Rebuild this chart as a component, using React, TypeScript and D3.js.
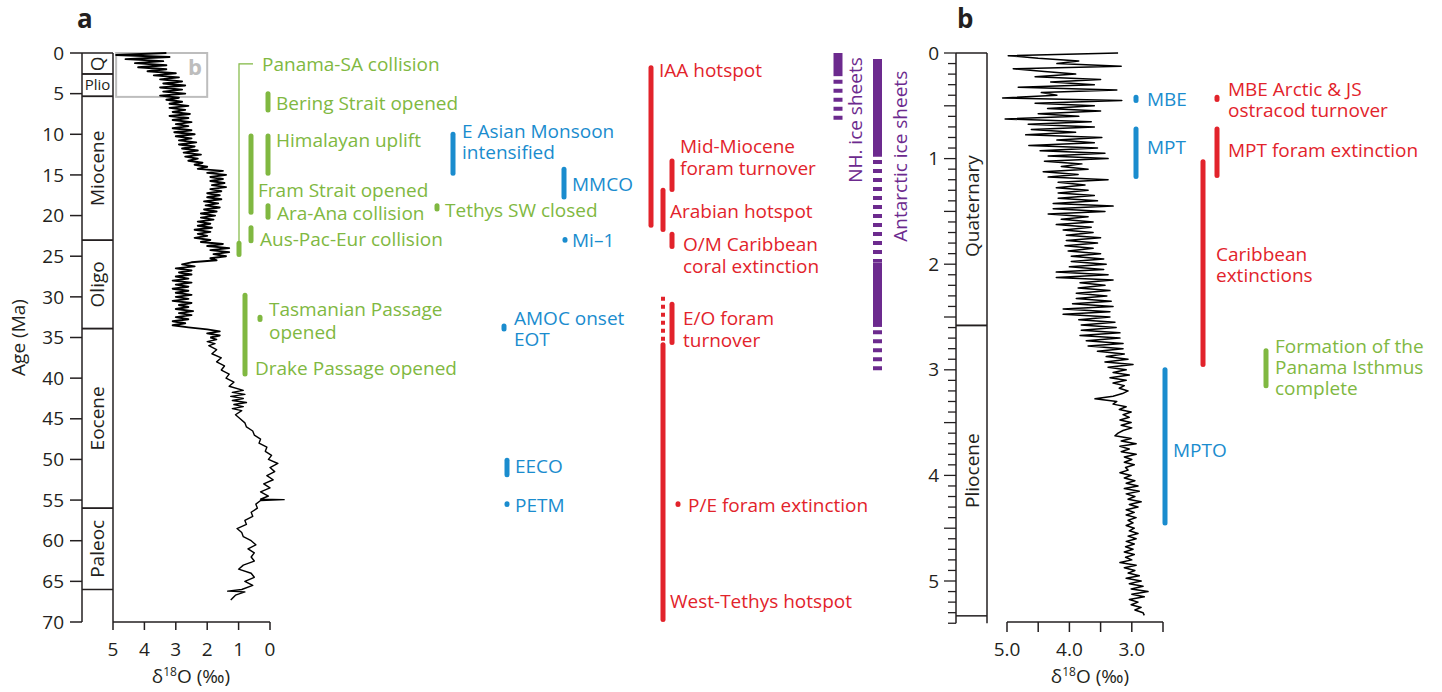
import * as d3 from "d3";
import React from "react";

const GREEN = "#80b841";
const BLUE = "#1a8cce";
const RED = "#e2232b";
const PURPLE = "#6c2a8e";
const INK = "#231f20";
const GREY = "#bdbdbd";
const FONT = "'Open Sans', 'Noto Sans', sans-serif";

// ---------- data ----------
const epochsA = [
  { name: "Q", from: 0, to: 2.58 },
  { name: "Plio", from: 2.58, to: 5.33 },
  { name: "Miocene", from: 5.33, to: 23.03 },
  { name: "Oligo", from: 23.03, to: 33.9 },
  { name: "Eocene", from: 33.9, to: 56 },
  { name: "Paleoc", from: 56, to: 66 },
];
const epochsB = [
  { name: "Quaternary", from: 0, to: 2.58 },
  { name: "Pliocene", from: 2.58, to: 5.33 },
];

// panel a benthic d18O, 0-35 Ma read every 0.25 Ma
const aYoungStep = 0.25;
const aYoungD18O = [
  3.3, 4.9, 3.2, 4.6, 3.4, 4.3, 3.3, 4.2, 3.3, 3.9,
  3.0, 3.7, 2.9, 3.5, 2.8, 3.4, 2.7, 3.5, 2.8, 3.4,
  2.7, 3.5, 2.9, 3.3, 2.8, 3.2, 2.6, 3.2, 2.7, 3.1,
  2.55, 3.2, 2.6, 3.1, 2.5, 3.0, 2.6, 3.1, 2.5, 3.05,
  2.4, 3.0, 2.5, 2.9, 2.35, 2.9, 2.4, 2.8, 2.3, 2.75,
  2.2, 2.7, 2.3, 2.6, 2.15, 2.4, 2.0, 2.3, 1.5, 2.0,
  1.4, 1.9, 1.5, 1.9, 1.45, 1.85, 1.4, 1.9, 1.55, 2.0,
  1.6, 2.0, 1.55, 2.1, 1.65, 2.05, 1.6, 2.1, 1.7, 2.2,
  1.75, 2.2, 1.8, 2.3, 1.9, 2.3, 1.85, 2.4, 1.9, 2.3,
  2.0, 2.4, 1.9, 2.2, 1.5, 2.0, 1.3, 1.9, 1.3, 1.8,
  1.4, 1.9, 1.7, 2.5, 2.8, 2.4, 3.0, 2.5, 2.9, 2.5,
  3.0, 2.6, 3.1, 2.5, 3.0, 2.6, 3.1, 2.6, 3.0, 2.5,
  3.0, 2.6, 3.1, 2.5, 2.9, 2.6, 3.0, 2.45, 2.9, 2.5,
  3.0, 2.6, 3.1, 2.7, 3.1, 2.6, 2.0, 1.6, 2.0, 1.6,
  1.9,
];
// panel a, older part [age Ma, d18O]
const aOldD18O: [number, number][] = [
  [35, 1.9], [35.25, 1.7], [35.5, 2.0], [35.75, 1.75], [36, 1.95], [36.5, 1.7], [37, 1.85], [37.5, 1.55],
  [38, 1.7], [38.5, 1.45], [39, 1.55], [39.5, 1.3], [40, 1.4], [40.5, 1.15], [41, 1.3],
  [41.5, 0.85], [41.75, 1.2], [42, 0.8], [42.25, 1.25], [42.5, 0.85], [42.75, 1.2], [43, 0.75],
  [43.25, 1.15], [43.5, 0.85], [43.75, 1.2], [44, 0.9], [44.5, 1.1], [45, 0.95], [45.5, 0.8],
  [46, 0.75], [46.5, 0.55], [47, 0.5], [47.5, 0.3], [48, 0.35], [48.5, 0.1], [49, 0.15],
  [49.5, -0.05], [50, 0.05], [50.5, -0.25], [51, 0.0], [51.5, -0.15], [52, 0.1], [52.5, -0.1],
  [53, 0.2], [53.5, 0.0], [54, 0.3], [54.5, 0.05], [54.9, 0.3], [54.95, -0.45], [55.05, 0.3],
  [55.5, 0.45], [56, 0.4], [56.5, 0.6], [57, 0.55], [57.5, 0.8], [58, 0.75], [58.5, 1.05],
  [59, 0.9], [59.5, 0.85], [60, 0.6], [60.5, 0.45], [61, 0.7], [61.5, 0.5], [62, 0.6],
  [62.5, 0.5], [63, 0.85], [63.5, 1.0], [64, 0.6], [64.5, 0.5], [65, 0.8], [65.5, 0.55],
  [66, 0.9], [66.2, 1.35], [66.3, 0.8], [66.7, 1.1], [67.3, 1.25],
];

// panel b, 0-5.33 Ma read every 0.025 Ma
const bStep = 0.025;
const bD18O = [
  3.22, 4.98, 4.5, 3.85, 4.2, 3.17, 4.9, 4.4, 3.9, 4.55,
  3.5, 4.3, 3.6, 4.82, 3.24, 4.45, 4.2, 5.07, 3.16, 4.55,
  3.6, 4.35, 3.5, 4.5, 3.85, 5.03, 3.65, 4.66, 3.6, 4.61,
  3.9, 4.7, 3.48, 4.2, 3.6, 4.65, 3.55, 4.47, 3.43, 4.34,
  3.38, 4.4, 3.8, 4.13, 3.7, 4.42, 3.86, 4.34, 3.38, 4.18,
  3.75, 4.21, 3.7, 4.18, 3.6, 4.18, 3.55, 4.26, 3.3, 4.26,
  3.43, 4.34, 3.7, 4.13, 3.62, 4.21, 3.65, 4.1, 3.62, 4.05,
  3.5, 4.05, 3.55, 4.07, 3.62, 4.02, 3.5, 3.97, 3.45, 3.97,
  3.41, 4.0, 3.45, 4.21, 3.38, 4.21, 3.3, 3.83, 3.43, 3.86,
  3.35, 3.89, 3.4, 3.89, 3.33, 3.95, 3.3, 4.1, 3.35, 4.1,
  3.35, 3.85, 3.27, 3.81, 3.25, 3.81, 3.19, 3.83, 3.19, 3.73,
  3.14, 3.7, 3.14, 3.55, 3.12, 3.41, 3.06, 3.43, 2.98, 3.38,
  3.09, 3.3, 3.04, 3.35, 3.09, 3.3, 3.12, 3.2, 3.06, 3.15,
  3.3, 3.59, 3.24, 3.3, 3.09, 3.2, 3.01, 3.14, 3.04, 3.19,
  3.01, 3.17, 3.0, 3.14, 3.22, 3.27, 3.01, 3.17, 2.93, 3.19,
  3.04, 3.17, 2.93, 3.12, 3.0, 3.12, 2.96, 3.1, 3.06, 3.19,
  3.01, 3.12, 2.95, 3.09, 2.9, 3.12, 2.88, 3.09, 2.95, 3.06,
  2.85, 3.04, 2.9, 3.09, 2.96, 3.09, 2.93, 3.06, 2.98, 3.09,
  2.96, 3.04, 2.9, 3.06, 2.93, 3.09, 2.96, 3.1, 2.98, 3.12,
  2.96, 3.1, 3.0, 3.19, 2.93, 3.12, 2.95, 3.06, 2.88, 3.09,
  2.85, 3.04, 2.82, 3.01, 2.74, 3.0, 2.8, 3.04, 2.9, 3.01,
  2.85, 2.95, 2.82, 2.8,
];

type Ev = { id: string; text: string[]; from: number; to: number };

const tectonicA: Ev[] = [
  { id: "bering", text: ["Bering Strait opened"], from: 5.0, to: 7.0 },
  { id: "himalaya", text: ["Himalayan uplift"], from: 10.2, to: 14.8 },
  { id: "fram", text: ["Fram Strait opened"], from: 10.2, to: 19.6 },
  { id: "araAna", text: ["Ara-Ana collision"], from: 18.8, to: 20.2 },
  { id: "tethys", text: ["Tethys SW closed"], from: 18.8, to: 19.2 },
  { id: "ausPac", text: ["Aus-Pac-Eur collision"], from: 21.5, to: 23.1 },
  { id: "tasman", text: ["Tasmanian Passage", "opened"], from: 32.5, to: 32.8 },
  { id: "drake", text: ["Drake Passage opened"], from: 29.8, to: 39.5 },
];
const panamaSA = { text: ["Panama-SA collision"], thinFrom: 1.35, thinTo: 23.3, barFrom: 23.4, barTo: 24.8 };

const climateA: Ev[] = [
  { id: "monsoon", text: ["E Asian Monsoon", "intensified"], from: 10.0, to: 14.8 },
  { id: "mmco", text: ["MMCO"], from: 14.3, to: 17.7 },
  { id: "mi1", text: ["Mi\u20131"], from: 22.95, to: 23.05 },
  { id: "amoc", text: ["AMOC onset", "EOT"], from: 33.6, to: 33.95 },
  { id: "eeco", text: ["EECO"], from: 50.1, to: 51.9 },
  { id: "petm", text: ["PETM"], from: 55.45, to: 55.55 },
];

const bioticA: Ev[] = [
  { id: "iaa", text: ["IAA hotspot"], from: 1.8, to: 21.2 },
  { id: "midMio", text: ["Mid-Miocene", "foram turnover"], from: 13.3, to: 16.8 },
  { id: "arabian", text: ["Arabian hotspot"], from: 16.9, to: 21.7 },
  { id: "omCarib", text: ["O/M Caribbean", "coral extinction"], from: 22.3, to: 23.8 },
  { id: "eoForam", text: ["E/O foram", "turnover"], from: 30.9, to: 35.6 },
  { id: "peForam", text: ["P/E foram extinction"], from: 55.45, to: 55.55 },
];
const westTethys = {
  text: ["West-Tethys hotspot"],
  spans: [
    { from: 30.0, to: 35.7, firm: false },
    { from: 35.9, to: 69.7, firm: true },
  ],
};

const iceSheets = [
  { id: "nh", text: "NH. ice sheets", spans: [{ from: 0, to: 2.85, firm: true }, { from: 3.3, to: 8.4, firm: false }] },
  {
    id: "ant",
    text: "Antarctic ice sheets",
    spans: [
      { from: 0.75, to: 12.75, firm: true },
      { from: 13.15, to: 25.7, firm: false },
      { from: 25.75, to: 33.7, firm: true },
      { from: 34.1, to: 39.2, firm: false },
    ],
  },
];

const climateB: Ev[] = [
  { id: "mbe", text: ["MBE"], from: 0.42, to: 0.45 },
  { id: "mpt", text: ["MPT"], from: 0.72, to: 1.17 },
  { id: "mpto", text: ["MPTO"], from: 3.0, to: 4.45 },
];
const bioticB: Ev[] = [
  { id: "mbeArctic", text: ["MBE Arctic & JS", "ostracod turnover"], from: 0.42, to: 0.44 },
  { id: "mptForam", text: ["MPT foram extinction"], from: 0.72, to: 1.16 },
  { id: "carib", text: ["Caribbean", "extinctions"], from: 1.03, to: 2.95 },
];
const tectonicB: Ev[] = [
  { id: "isthmus", text: ["Formation of the", "Panama Isthmus", "complete"], from: 2.82, to: 3.15 },
];

// ---------- layout: [bar x, label x, label age] ----------
const place: Record<string, [number, number, number]> = {
  bering: [268, 276, 6.15],
  himalaya: [268, 276, 10.7],
  fram: [251, 258, 16.85],
  araAna: [268, 277, 19.7],
  tethys: [437, 445, 19.3],
  ausPac: [251, 260, 22.9],
  tasman: [260, 269, 31.5],
  drake: [245, 255, 38.75],
  monsoon: [453, 462, 9.68],
  mmco: [564, 572, 16.1],
  mi1: [565, 572, 23.1],
  amoc: [504, 514, 32.7],
  eeco: [507, 515, 50.9],
  petm: [507, 515, 55.6],
  iaa: [651, 659, 2.18],
  midMio: [672, 680, 11.5],
  arabian: [663, 670, 19.5],
  omCarib: [672, 683, 23.6],
  eoForam: [672, 683, 32.6],
  peForam: [678, 688, 55.7],
  mbe: [1136, 1147, 0.44],
  mpt: [1136, 1147, 0.89],
  mpto: [1165, 1173, 3.76],
  mbeArctic: [1217, 1228, 0.34],
  mptForam: [1217, 1228, 0.925],
  carib: [1203, 1216, 1.91],
  isthmus: [1266, 1275, 2.78],
};
// [bar x, label x, label centre age]
const iceX: Record<string, [number, number, number]> = { nh: [838, 855, 8.25], ant: [877.5, 900, 12.7] };

// ---------- scales ----------
const yA = d3.scaleLinear().domain([0, 70]).range([53, 622]);
const xA = d3.scaleLinear().domain([5, 0]).range([113, 270]);
const yB = d3.scaleLinear().domain([0, 5]).range([53, 581]);
const xB = d3.scaleLinear().domain([5, 2.5]).range([1007, 1163]);

const curveAYoung: [number, number][] = aYoungD18O.map((d, i) => [i * aYoungStep, d]);
const curveB: [number, number][] = bD18O.map((d, i) => [i * bStep, d]);

const lineA = d3.line<[number, number]>().x((d) => xA(d[1])).y((d) => yA(d[0]));
const lineB = d3.line<[number, number]>().x((d) => xB(d[1])).y((d) => yB(d[0]));

function Lines({ x, y, lines, color, gap }: { x: number; y: number; lines: string[]; color: string; gap: number }) {
  return (
    <text x={x} y={y} fill={color} fontSize={19}>
      {lines.map((t, i) => (
        <tspan key={i} x={x} dy={i === 0 ? "0.35em" : gap}>
          {t}
        </tspan>
      ))}
    </text>
  );
}

function EventMarks({ events, y, color, gap }: { events: Ev[]; y: d3.ScaleLinear<number, number>; color: string; gap: number }) {
  return (
    <g>
      {events.map((ev) => {
        const [bx, lx, la] = place[ev.id];
        return (
          <g key={ev.id}>
            <line x1={bx} x2={bx} y1={y(ev.from)} y2={y(ev.to)} stroke={color} strokeWidth={5} strokeLinecap="round" />
            <Lines x={lx} y={y(la)} lines={ev.text} color={color} gap={gap} />
          </g>
        );
      })}
    </g>
  );
}

function DeltaTitle({ x, y }: { x: number; y: number }) {
  return (
    <text x={x} y={y} textAnchor="middle" fontSize={19} fill={INK} dy="0.35em">
      δ<tspan dy={-7} fontSize={12}>18</tspan>
      <tspan dy={7}>O (‰)</tspan>
    </text>
  );
}

function PanelA() {
  const ageTicks = d3.range(0, 71, 5);
  const dTicks = d3.range(0, 6, 1);
  return (
    <g>
      <text x={77} y={28} fontSize={26} fontWeight="bold" fill={INK}>a</text>
      {/* age axis */}
      <line x1={82} x2={82} y1={yA(0)} y2={yA(70)} stroke={INK} strokeWidth={1.5} />
      {ageTicks.map((t) => (
        <g key={t}>
          <line x1={70} x2={82} y1={yA(t)} y2={yA(t)} stroke={INK} strokeWidth={1.5} />
          <text x={64} y={yA(t)} dy="0.35em" textAnchor="end" fontSize={19} fill={INK}>{t}</text>
        </g>
      ))}
      <text transform={`translate(18,${yA(35)}) rotate(-90)`} textAnchor="middle" dy="0.35em" fontSize={19} fill={INK}>
        Age (Ma)
      </text>
      {/* epoch column */}
      <line x1={113} x2={113} y1={yA(0)} y2={yA(70)} stroke={INK} strokeWidth={1.5} />
      {epochsA.map((e) => (
        <g key={e.name}>
          <line x1={82} x2={113} y1={yA(e.from)} y2={yA(e.from)} stroke={INK} strokeWidth={1.5} />
          <line x1={82} x2={113} y1={yA(e.to)} y2={yA(e.to)} stroke={INK} strokeWidth={1.5} />
          {e.name === "Plio" ? (
            <text x={97.5} y={yA((e.from + e.to) / 2)} dy="0.35em" textAnchor="middle" fontSize={15} fill={INK}>{e.name}</text>
          ) : (
            <text
              transform={`translate(97.5,${yA(e.name === "Q" ? 1.35 : (e.from + e.to) / 2)}) rotate(-90)`}
              dy="0.35em"
              textAnchor="middle"
              fontSize={19}
              fill={INK}
            >
              {e.name}
            </text>
          )}
        </g>
      ))}
      {/* d18O axis */}
      <line x1={113} x2={270} y1={622} y2={622} stroke={INK} strokeWidth={1.5} />
      {dTicks.map((t) => (
        <g key={t}>
          <line x1={xA(t)} x2={xA(t)} y1={622} y2={630} stroke={INK} strokeWidth={1.5} />
          <text x={xA(t)} y={649} dy="0.35em" textAnchor="middle" fontSize={19} fill={INK}>{t}</text>
        </g>
      ))}
      <DeltaTitle x={191} y={676} />
      {/* inset box referring to panel b */}
      <rect x={xA(4.9)} y={yA(0)} width={xA(2.0) - xA(4.9)} height={yA(5.4) - yA(0)} fill="none" stroke={GREY} strokeWidth={2} />
      <text x={188} y={75} fontSize={22} fontWeight="bold" fill={GREY}>b</text>
      <path d={lineA(curveAYoung) ?? ""} fill="none" stroke="#000" strokeWidth={1.9} strokeLinejoin="round" />
      <path d={lineA(aOldD18O) ?? ""} fill="none" stroke="#000" strokeWidth={1.4} strokeLinejoin="round" />

      {/* Panama-SA collision bracket */}
      <polyline
        points={`253,${yA(panamaSA.thinFrom)} 239,${yA(panamaSA.thinFrom)} 239,${yA(panamaSA.thinTo)}`}
        fill="none"
        stroke={GREEN}
        strokeWidth={1.2}
      />
      <line x1={239} x2={239} y1={yA(panamaSA.barFrom)} y2={yA(panamaSA.barTo)} stroke={GREEN} strokeWidth={5} strokeLinecap="round" />
      <Lines x={262} y={yA(panamaSA.thinFrom)} lines={panamaSA.text} color={GREEN} gap={22} />

      <EventMarks events={tectonicA} y={yA} color={GREEN} gap={23} />
      <EventMarks events={climateA} y={yA} color={BLUE} gap={21} />
      <EventMarks events={bioticA} y={yA} color={RED} gap={22} />

      {westTethys.spans.map((s, i) => (
        <line
          key={i}
          x1={663}
          x2={663}
          y1={yA(s.from)}
          y2={yA(s.to)}
          stroke={RED}
          strokeWidth={s.firm ? 5 : 4}
          strokeLinecap={s.firm ? "round" : "butt"}
          strokeDasharray={s.firm ? undefined : "4 4"}
        />
      ))}
      <Lines x={670} y={yA(67.4)} lines={westTethys.text} color={RED} gap={22} />

      {iceSheets.map((s) => {
        const [bx, lx, la] = iceX[s.id];
        return (
          <g key={s.id}>
            {s.spans.map((sp, i) => (
              <line
                key={i}
                x1={bx}
                x2={bx}
                y1={yA(sp.from)}
                y2={yA(sp.to)}
                stroke={PURPLE}
                strokeWidth={9}
                strokeDasharray={sp.firm ? undefined : "4 5"}
              />
            ))}
            <text
              transform={`translate(${lx},${yA(la)}) rotate(-90)`}
              dy="0.35em"
              textAnchor="middle"
              fontSize={19}
              fill={PURPLE}
            >
              {s.text}
            </text>
          </g>
        );
      })}
    </g>
  );
}

function PanelB() {
  const minor = d3.range(0, 55, 1);
  const dTicks = [5, 4.5, 4, 3.5, 3, 2.5];
  return (
    <g>
      <text x={957} y={28} fontSize={26} fontWeight="bold" fill={INK}>b</text>
      <line x1={956} x2={956} y1={yB(0)} y2={yB(5.4)} stroke={INK} strokeWidth={1.5} />
      {minor.map((i) => {
        const t = i / 10;
        const major = i % 5 === 0;
        return (
          <g key={i}>
            <line x1={major ? 944 : 948} x2={956} y1={yB(t)} y2={yB(t)} stroke={INK} strokeWidth={1.3} />
            {i % 10 === 0 && (
              <text x={939} y={yB(t)} dy="0.35em" textAnchor="end" fontSize={19} fill={INK}>{t}</text>
            )}
          </g>
        );
      })}
      <line x1={987} x2={987} y1={yB(0)} y2={yB(5.4)} stroke={INK} strokeWidth={1.5} />
      {epochsB.map((e) => (
        <g key={e.name}>
          <line x1={956} x2={987} y1={yB(e.from)} y2={yB(e.from)} stroke={INK} strokeWidth={1.5} />
          <line x1={956} x2={987} y1={yB(e.to)} y2={yB(e.to)} stroke={INK} strokeWidth={1.5} />
          <text
            transform={`translate(972,${yB(e.name === "Quaternary" ? 1.45 : (e.from + e.to) / 2)}) rotate(-90)`}
            dy="0.35em"
            textAnchor="middle"
            fontSize={19}
            fill={INK}
          >
            {e.name}
          </text>
        </g>
      ))}
      <line x1={xB(5)} x2={xB(2.5)} y1={622} y2={622} stroke={INK} strokeWidth={1.5} />
      {dTicks.map((t) => (
        <g key={t}>
          <line x1={xB(t)} x2={xB(t)} y1={622} y2={632} stroke={INK} strokeWidth={1.5} />
          {Number.isInteger(t) && (
            <text x={xB(t)} y={649} dy="0.35em" textAnchor="middle" fontSize={19} fill={INK}>{d3.format(".1f")(t)}</text>
          )}
        </g>
      ))}
      <DeltaTitle x={1090} y={676} />
      <path d={lineB(curveB) ?? ""} fill="none" stroke="#000" strokeWidth={1.5} strokeLinejoin="round" />

      <EventMarks events={climateB} y={yB} color={BLUE} gap={21} />
      <EventMarks events={bioticB} y={yB} color={RED} gap={21} />
      <EventMarks events={tectonicB} y={yB} color={GREEN} gap={21} />
    </g>
  );
}

export default function App() {
  return (
    <svg
      width={1442}
      height={692}
      style={{ position: "absolute", left: 0, top: 0, background: "#fff" }}
      fontFamily={FONT}
    >
      <PanelA />
      <PanelB />
    </svg>
  );
}
